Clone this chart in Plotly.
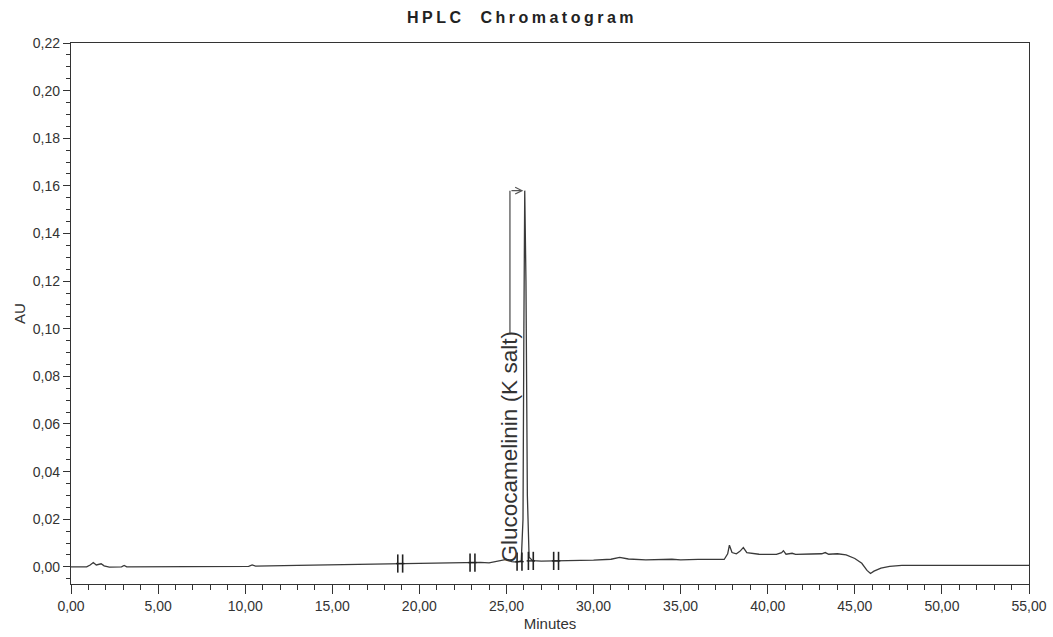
import plotly.graph_objects as go

# ---- data ----
time_min = [0.0, 0.9, 1.1, 1.28, 1.45, 1.6, 1.73, 1.9, 2.2, 2.9, 3.05, 3.2, 6.0,
            10.2, 10.4, 10.6, 13.0, 16.0, 18.0, 20.0, 22.0, 23.5, 24.0, 24.5, 25.0,
            25.3, 25.6, 25.85, 25.95, 26.0, 26.05, 26.12, 26.2, 26.3, 26.5, 27.0,
            28.0, 29.0, 30.0, 31.0, 31.5, 32.0, 33.0, 34.5, 35.0, 36.0, 37.5, 37.7,
            37.8, 37.95, 38.2, 38.4, 38.6, 38.8, 39.5, 40.5, 40.8, 40.9, 41.05, 41.4,
            41.6, 42.5, 43.1, 43.3, 43.5, 44.0, 44.5, 45.0, 45.4, 45.7, 45.9, 46.1,
            46.5, 47.0, 47.7, 49.0, 55.0]
absorbance = [0.0, 0.0, 0.0008, 0.0018, 0.0008, 0.0009, 0.0013, 0.0004, -0.0001, 0.0,
              0.0006, 0.0, 0.0, 0.0002, 0.0008, 0.0003, 0.0006, 0.0010, 0.0013, 0.0015,
              0.0017, 0.0019, 0.0017, 0.0024, 0.0031, 0.0022, 0.0020, 0.0025, 0.020,
              0.100, 0.158, 0.120, 0.030, 0.004, 0.0026, 0.0024, 0.0025, 0.0027, 0.0028,
              0.0032, 0.0040, 0.0033, 0.0029, 0.0032, 0.0029, 0.0031, 0.0031, 0.0055,
              0.0091, 0.0060, 0.0055, 0.0065, 0.0081, 0.0060, 0.0053, 0.0052, 0.0060,
              0.0068, 0.0053, 0.0057, 0.0052, 0.0054, 0.0055, 0.0060, 0.0053, 0.0055,
              0.0050, 0.0035, 0.0015, -0.0015, -0.0028, -0.0018, -0.0005, 0.0002,
              0.0006, 0.0006, 0.0006]

# integration event marks (minutes) and their baseline level
event_times = [18.9, 23.05, 25.75, 26.4, 27.85]
event_levels = [0.0014, 0.0018, 0.0022, 0.0025, 0.0025]

peak_name = "Glucocamelinin (K salt)"
peak_time = 26.05
peak_height = 0.158

x_ticks = [0, 5, 10, 15, 20, 25, 30, 35, 40, 45, 50, 55]
y_ticks = [0.00, 0.02, 0.04, 0.06, 0.08, 0.10, 0.12, 0.14, 0.16, 0.18, 0.20, 0.22]

# label placement (style)
label_x = 25.2
label_bottom = 0.0012
label_top = 0.0982

FONT = "Liberation Sans, Arial, sans-serif"
INK = "#333333"

fig = go.Figure()

fig.add_trace(go.Scatter(
    x=time_min, y=absorbance, mode="lines",
    line=dict(color="#3a3a3a", width=1.3), hoverinfo="skip", showlegend=False))

# event markers drawn as pairs of short vertical ticks joined by a short bar
ev_x, ev_y = [], []
for t, lv in zip(event_times, event_levels):
    ev_x += [t - 0.14, t + 0.14]
    ev_y += [lv, lv]
fig.add_trace(go.Scatter(
    x=ev_x, y=ev_y, mode="markers",
    marker=dict(symbol="line-ns", size=13, line=dict(color="#222222", width=1.6)),
    hoverinfo="skip", showlegend=False))
fig.add_trace(go.Scatter(
    x=event_times, y=event_levels, mode="markers",
    marker=dict(symbol="line-ew", size=6, line=dict(color="#222222", width=1.4)),
    hoverinfo="skip", showlegend=False))

# peak label with leader line and arrow
fig.add_trace(go.Scatter(
    x=[label_x, label_x], y=[label_top, peak_height], mode="lines",
    line=dict(color="#555555", width=1.3), hoverinfo="skip", showlegend=False))
fig.add_annotation(
    x=peak_time - 0.08, y=peak_height, ax=label_x, ay=peak_height,
    xref="x", yref="y", axref="x", ayref="y", text="",
    showarrow=True, arrowhead=5, arrowsize=1.1, arrowwidth=1.2, arrowcolor="#555555")
fig.add_annotation(
    x=label_x, y=label_bottom, xref="x", yref="y", text=peak_name,
    textangle=-90, showarrow=False, xanchor="center", yanchor="bottom",
    font=dict(family=FONT, size=22.5, color=INK))

fig.update_layout(
    width=1053, height=637,
    margin=dict(l=71, r=24, t=43, b=53),
    paper_bgcolor="white", plot_bgcolor="white",
    separators=", ",
    title=dict(text="HPLC  Chromatogram", x=522 / 1053, xref="container", xanchor="center",
               y=1 - 17 / 637, yref="container", yanchor="middle",
               font=dict(family=FONT, size=16, color="#222222", weight="bold")),
    font=dict(family=FONT, color=INK),
)

fig.update_xaxes(
    range=[0, 55], tickvals=x_ticks, tickformat=".2f", automargin=False,
    ticks="outside", ticklen=9, tickwidth=1.2, tickcolor="#333333",
    minor=dict(dtick=1, ticks="outside", ticklen=5, tickwidth=1, tickcolor="#333333"),
    showline=True, linecolor="#333333", linewidth=1.4, mirror=True,
    showgrid=False, zeroline=False,
    tickfont=dict(family=FONT, size=14, color=INK),
    title=dict(text="Minutes", font=dict(family=FONT, size=15, color=INK), standoff=5),
)
fig.update_yaxes(
    range=[-0.0072, 0.22], tickvals=y_ticks, tickformat=".2f", automargin=False,
    ticks="outside", ticklen=7, tickwidth=1.2, tickcolor="#333333",
    minor=dict(dtick=0.005, tick0=0, ticks="outside", ticklen=4, tickwidth=1, tickcolor="#333333"),
    showline=True, linecolor="#333333", linewidth=1.4, mirror=True,
    showgrid=False, zeroline=False,
    tickfont=dict(family=FONT, size=14, color=INK),
    ticklabelstandoff=0,
    title=dict(text="AU", font=dict(family=FONT, size=15, color=INK), standoff=3),
)

post = """
document.body.style.margin = '0';
var t = document.querySelector('.gtitle');
if (t) { t.style.letterSpacing = '3.5px'; }
"""
fig.write_html("out.html", post_script=post, config={"displayModeBar": False})
